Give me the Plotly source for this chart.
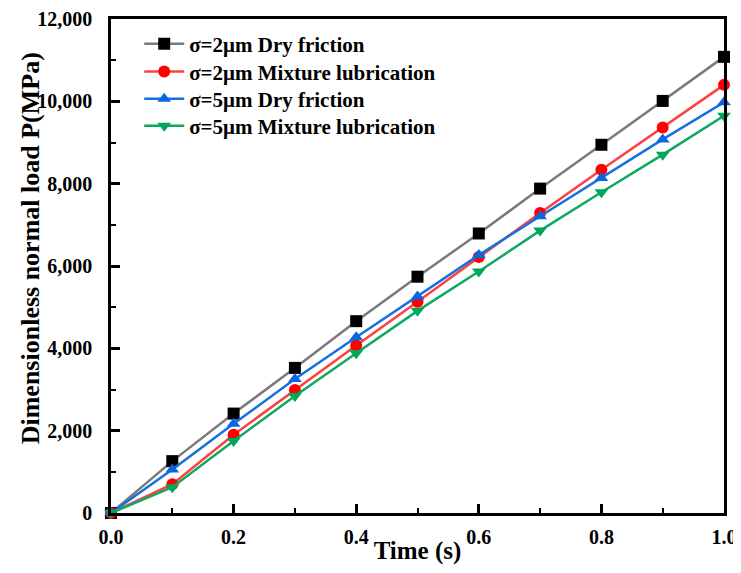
import plotly.graph_objects as go

time_s = [0.0, 0.1, 0.2, 0.3, 0.4, 0.5, 0.6, 0.7, 0.8, 0.9, 1.0]
dry_2um = [0, 1260, 2415, 3525, 4660, 5740, 6790, 7880, 8945, 10010, 11080]
mix_2um = [0, 700, 1900, 2990, 4070, 5130, 6220, 7290, 8340, 9365, 10400]
dry_5um = [0, 1055, 2165, 3255, 4270, 5260, 6265, 7210, 8140, 9075, 9975]
mix_5um = [0, 625, 1750, 2840, 3880, 4910, 5865, 6860, 7790, 8705, 9650]

names = ["σ=2μm Dry friction", "σ=2μm Mixture lubrication",
         "σ=5μm Dry friction", "σ=5μm Mixture lubrication"]
series = [dry_2um, mix_2um, dry_5um, mix_5um]
line_colors = ["#7a7a7a", "#ff4040", "#1670e0", "#10a860"]
marker_colors = ["#000000", "#ff0000", "#0a66e0", "#00a65a"]
symbols = ["square", "circle", "triangle-up", "triangle-down"]
legend_ids = ["legend", "legend2", "legend3", "legend4"]
legend_rows = [0.949, 0.893, 0.838, 0.783]

font_family = "Liberation Serif"

fig = go.Figure()
for n, s, lc, mc, sym, lg in zip(names, series, line_colors, marker_colors, symbols, legend_ids):
    fig.add_trace(go.Scatter(
        x=time_s, y=s, name="<b>" + n + "</b>", mode="lines+markers",
        line=dict(color=lc, width=2.5),
        marker=dict(symbol=sym, size=12, color=mc),
        cliponaxis=False, legend=lg,
    ))

legend_layout = {}
for lg, yy in zip(legend_ids, legend_rows):
    legend_layout[lg] = dict(
        x=0.046, y=yy, xanchor="left", yanchor="middle",
        bgcolor="rgba(0,0,0,0)",
        font=dict(size=21, family=font_family, color="black"),
        itemwidth=40,
    )

fig.update_layout(
    width=733, height=557,
    margin=dict(l=103, r=17, t=11, b=52),
    paper_bgcolor="white", plot_bgcolor="white",
    font=dict(family=font_family, color="black", weight="bold"),
    showlegend=True,
    annotations=[dict(
        text="<b>Dimensionless normal load P(MPa)</b>", textangle=-90,
        xref="paper", yref="paper", x=-0.132, y=0.536,
        xanchor="center", yanchor="middle", showarrow=False,
        font=dict(size=26, family=font_family, color="black"),
    )],
    **legend_layout,
)
fig.update_xaxes(
    range=[0, 1], dtick=0.2, tickformat=".1f",
    showline=True, linecolor="black", linewidth=2.5, mirror=True,
    ticks="inside", ticklen=9, tickwidth=2.5, tickcolor="black",
    minor=dict(ticks="inside", ticklen=5, tickwidth=2, tickcolor="black", dtick=0.1, showgrid=False),
    showgrid=False, zeroline=False, ticklabelstandoff=4, automargin=False,
    ticklabeloverflow="allow",
    tickfont=dict(size=20, family=font_family, weight="bold"),
    title=dict(text="<b>Time (s)</b>", font=dict(size=25, family=font_family), standoff=7),
)
fig.update_yaxes(
    range=[0, 12000], dtick=2000, tickformat=",d",
    showline=True, linecolor="black", linewidth=2.5, mirror=True,
    ticks="inside", ticklen=9, tickwidth=2.5, tickcolor="black",
    minor=dict(ticks="inside", ticklen=5, tickwidth=2, tickcolor="black", dtick=1000, showgrid=False),
    showgrid=False, zeroline=False, ticklabelstandoff=12, automargin=False,
    ticklabeloverflow="allow",
    tickfont=dict(size=20, family=font_family, weight="bold"),
)
fig.write_html("out.html")
